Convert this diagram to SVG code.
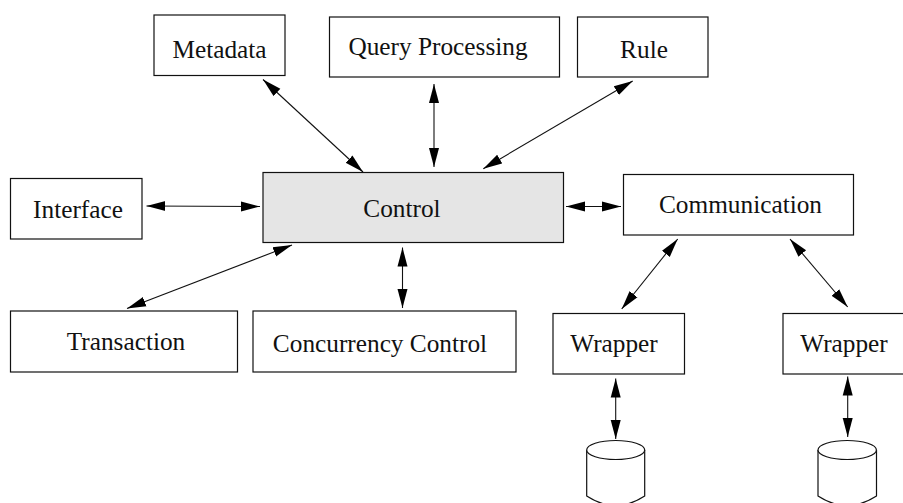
<svg xmlns="http://www.w3.org/2000/svg" width="903" height="503" viewBox="0 0 903 503">
<style>
rect{fill:#fff;stroke:#111;stroke-width:1.2}
#control rect{fill:#e5e5e5}
text{font-family:"Liberation Serif","Times New Roman",serif;font-size:25.3px;fill:#111}
.c{fill:none;stroke:#111;stroke-width:1.1;marker-start:url(#a);marker-end:url(#a)}
.cyl{fill:#fff;stroke:#111;stroke-width:1.2}
</style>
<defs><marker id="a" markerUnits="userSpaceOnUse" markerWidth="20" markerHeight="12" refX="19" refY="6" orient="auto-start-reverse"><path d="M0 1 L19 6 L0 11 Z" fill="#000"/></marker></defs>
<rect width="903" height="503" style="fill:#fff;stroke:none"/>
<g id="connectors">
<line class="c" x1="263" y1="79.500" x2="363" y2="172"/>
<line class="c" x1="434" y1="84" x2="434" y2="167"/>
<line class="c" x1="632.700" y1="81" x2="483.300" y2="168.700"/>
<line class="c" x1="146.500" y1="206" x2="260" y2="206.500"/>
<line class="c" x1="566" y1="206.500" x2="621" y2="206.500"/>
<line class="c" x1="292" y1="245" x2="127" y2="308.500"/>
<line class="c" x1="402.500" y1="247.500" x2="402.500" y2="308"/>
<line class="c" x1="677.700" y1="239" x2="621.700" y2="309"/>
<line class="c" x1="790" y1="239" x2="847.700" y2="307"/>
<line class="c" x1="615.700" y1="378.500" x2="615.700" y2="439"/>
<line class="c" x1="847.700" y1="376.500" x2="847.700" y2="437"/>
</g>
<g id="metadata"><rect x="154" y="15" width="131" height="60.500"/><text x="219.500" y="58" text-anchor="middle">Metadata</text></g>
<g id="query"><rect x="329.500" y="17" width="230" height="60"/><text x="438" y="55" text-anchor="middle">Query Processing</text></g>
<g id="rule"><rect x="577.500" y="17" width="130.500" height="60"/><text x="644" y="58" text-anchor="middle">Rule</text></g>
<g id="interface"><rect x="10.500" y="178.500" width="131.500" height="60.500"/><text x="78" y="217.500" text-anchor="middle">Interface</text></g>
<g id="control"><rect x="263" y="172.500" width="300.500" height="70"/><text x="402" y="217" text-anchor="middle">Control</text></g>
<g id="communication"><rect x="623.500" y="174.500" width="230" height="60.500"/><text x="740.500" y="212.700" text-anchor="middle">Communication</text></g>
<g id="transaction"><rect x="10.500" y="311" width="227" height="61"/><text x="126" y="350" text-anchor="middle">Transaction</text></g>
<g id="concurrency"><rect x="253" y="311" width="263" height="61"/><text x="380" y="352" text-anchor="middle">Concurrency Control</text></g>
<g id="wrapper1"><rect x="553" y="313.500" width="131.500" height="60.500"/><text x="614" y="351.700" text-anchor="middle">Wrapper</text></g>
<g id="wrapper2"><rect x="783" y="313.500" width="131.500" height="60.500"/><text x="844" y="351.700" text-anchor="middle">Wrapper</text></g>
<g id="db1"><path class="cyl" d="M586.700 450 V496 Q615.700 515 644.700 496 V450"/><ellipse class="cyl" cx="615.700" cy="450" rx="29" ry="9.500"/></g>
<g id="db2"><path class="cyl" d="M818 450 V496 Q847 515 876.500 496 V450"/><ellipse class="cyl" cx="847.200" cy="450" rx="29.200" ry="9.500"/></g>
</svg>
